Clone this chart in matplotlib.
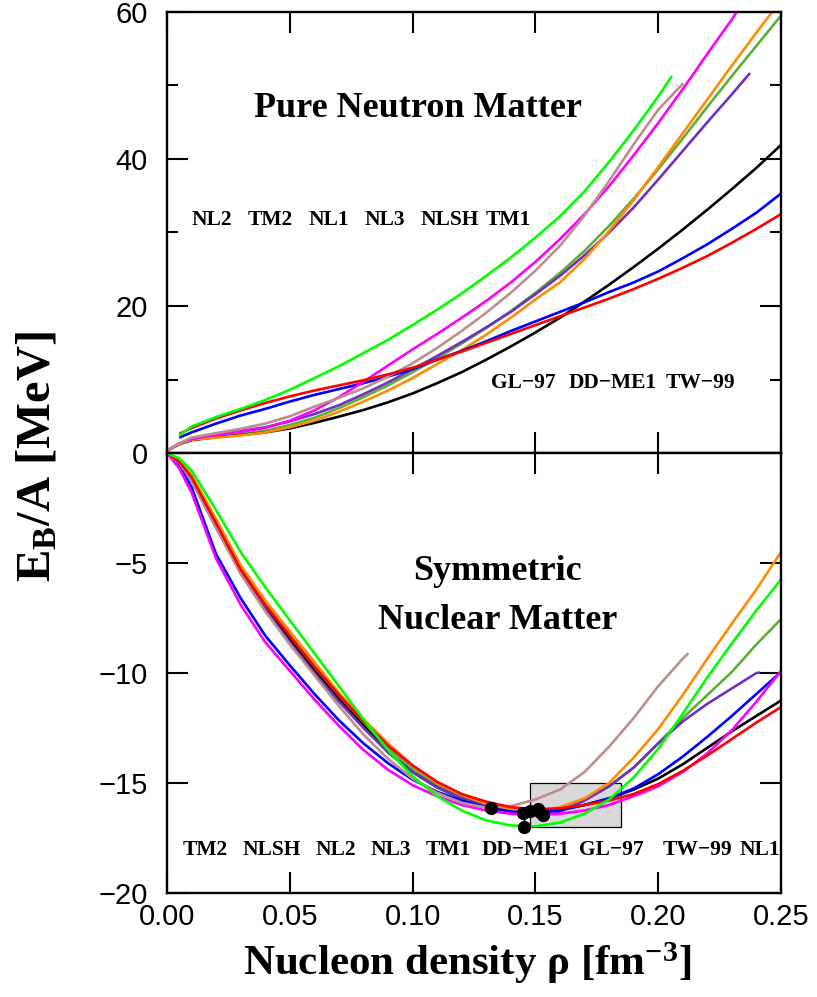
import numpy as np
import matplotlib
matplotlib.use("Agg")
import matplotlib.pyplot as plt
from matplotlib.patches import Rectangle

plt.rcParams['mathtext.fontset'] = 'custom'
plt.rcParams['mathtext.rm'] = 'Liberation Serif:bold'
plt.rcParams['mathtext.bf'] = 'Liberation Serif:bold'
plt.rcParams['mathtext.it'] = 'Liberation Serif:italic:bold'
plt.rcParams['axes.unicode_minus'] = True

nan = np.nan
# density grid (fm^-3)
rho = [0.0, 0.005, 0.01, 0.02, 0.03, 0.04, 0.05, 0.06, 0.07, 0.08, 0.09, 0.10, 0.11,
       0.12, 0.13, 0.14, 0.15, 0.16, 0.17, 0.18, 0.19, 0.20, 0.21, 0.22, 0.23, 0.24, 0.25]

# ---- Pure neutron matter E/A (MeV) ----
pnm_NL2 = [nan, 2.4, 3.6, 4.9, 6.0, 7.2, 8.6, 10.2, 11.8, 13.6, 15.4, 17.4, 19.5, 21.7, 24.1,
           26.6, 29.3, 32.2, 35.6, 39.6, 43.9, 48.5]
pnm_NL2_end = (0.2056, 51.3)
pnm_TW99 = [nan, 2.6, 3.4, 4.7, 5.8, 6.8, 7.7, 8.5, 9.2, 9.9, 10.7, 11.6, 12.7, 13.8, 15.0,
            16.2, 17.4, 18.6, 19.8, 21.0, 22.3, 23.7, 25.2, 26.8, 28.6, 30.5, 32.5]
pnm_DDME1 = [nan, 2.1, 2.8, 4.0, 5.1, 6.0, 7.0, 7.9, 8.7, 9.5, 10.4, 11.4, 12.7, 13.9, 15.2,
             16.6, 17.9, 19.2, 20.5, 21.9, 23.2, 24.7, 26.5, 28.4, 30.5, 32.7, 35.3]
pnm_GL97 = [0.3, 1.2, 1.75, 2.15, 2.45, 2.8, 3.35, 4.1, 4.95, 5.85, 6.9, 8.1, 9.5, 11.0, 12.7,
            14.5, 16.4, 18.4, 20.6, 22.9, 25.3, 27.8, 30.4, 33.1, 35.9, 38.8, 41.9]
pnm_NL1 = [0.3, 1.3, 1.9, 2.5, 2.9, 3.4, 4.4, 5.8, 7.6, 9.7, 11.9, 14.1, 16.2, 18.4, 20.7,
           23.2, 26.0, 29.1, 32.5, 36.3, 40.5, 44.9, 49.5, 54.3, 59.0, 64.0]
pnm_TM2 = [0.3, 1.3, 2.1, 2.7, 3.3, 4.0, 5.0, 6.3, 7.5, 8.8, 10.4, 12.2, 14.3, 16.6, 19.1,
           21.8, 24.8, 28.2, 32.3, 37.0, 42.0, 46.7]
pnm_TM2_end = (0.2102, 50.3)
pnm_TM1 = [0.3, 1.3, 1.9, 2.5, 3.0, 3.5, 4.3, 5.3, 6.5, 8.0, 9.6, 11.4, 13.2, 15.1, 17.1,
           19.2, 21.6, 24.1, 26.9, 30.0, 33.4, 37.2, 41.1, 45.0, 48.8]
pnm_TM1_end = (0.2374, 51.7)
pnm_NL3 = [0.3, 1.2, 1.8, 2.2, 2.6, 3.0, 3.8, 4.8, 6.1, 7.6, 9.2, 11.0, 12.9, 14.9, 17.0,
           19.3, 21.8, 24.5, 27.5, 30.9, 34.6, 38.6, 42.8, 47.1, 51.3, 55.4, 59.5]
pnm_NLSH = [0.3, 1.2, 1.8, 2.1, 2.4, 2.8, 3.5, 4.4, 5.6, 7.0, 8.5, 10.2, 12.1, 14.0, 16.1,
            18.4, 20.9, 23.2, 26.4, 30.2, 34.4, 38.9, 43.5, 48.1, 52.7, 57.2, 61.6]

# ---- Symmetric nuclear matter E/A (MeV) ----
snm_NL2 = [0, -0.25, -0.8, -2.6, -4.5, -6.1, -7.6, -9.1, -10.6, -12.1, -13.5, -14.7, -15.6,
           -16.25, -16.7, -16.93, -16.97, -16.8, -16.4, -15.75, -14.75, -13.45, -11.85,
           -10.2, -8.65, -7.15, -5.75]
snm_NL1 = [0, -0.7, -1.8, -4.8, -6.9, -8.6, -9.9, -11.2, -12.4, -13.5, -14.4, -15.1, -15.6,
           -16.0, -16.25, -16.4, -16.45, -16.4, -16.25, -16.0, -15.6, -15.15, -14.5, -13.65,
           -12.6, -11.3, -9.9]
snm_DDME1 = [0, -0.55, -1.55, -4.6, -6.6, -8.3, -9.65, -10.95, -12.15, -13.2, -14.1, -14.85,
             -15.4, -15.8, -16.1, -16.3, -16.35, -16.25, -16.0, -15.7, -15.25, -14.6, -13.8,
             -12.9, -11.95, -10.95, -9.95]
snm_GL97 = [0, -0.45, -1.2, -3.3, -5.3, -7.0, -8.5, -9.9, -11.2, -12.4, -13.6, -14.5, -15.2,
            -15.7, -16.05, -16.25, -16.3, -16.2, -16.0, -15.7, -15.3, -14.8, -14.15, -13.4,
            -12.65, -11.95, -11.25]
snm_TW99 = [0, -0.4, -1.1, -3.2, -5.3, -6.9, -8.3, -9.7, -11.0, -12.2, -13.3, -14.2, -14.95,
            -15.5, -15.85, -16.1, -16.2, -16.15, -16.0, -15.8, -15.5, -15.05, -14.45, -13.75,
            -13.0, -12.25, -11.55]
snm_NLSH = [0, -0.35, -1.0, -3.0, -5.1, -6.7, -8.1, -9.5, -10.9, -12.1, -13.2, -14.2, -15.0,
            -15.55, -15.95, -16.2, -16.3, -16.1, -15.7, -15.0, -13.85, -12.55, -11.0, -9.35,
            -7.75, -6.2, -4.5]
snm_NL3 = [0, -0.4, -1.15, -3.2, -5.2, -6.9, -8.4, -9.8, -11.1, -12.3, -13.4, -14.35, -15.1,
           -15.6, -15.95, -16.2, -16.3, -16.15, -15.75, -15.15, -14.3, -13.2, -12.05, -11.0,
           -9.95, -8.7, -7.55]
snm_TM1 = [0, -0.45, -1.25, -3.4, -5.4, -7.1, -8.6, -10.0, -11.3, -12.5, -13.6, -14.5, -15.2,
           -15.7, -16.05, -16.3, -16.4, -16.3, -15.8, -15.15, -14.3, -13.2, -12.2, -11.4,
           -10.7, -10.0]
snm_TM1_end = (0.2415, -9.98)
snm_TM2 = [0, -0.45, -1.25, -3.4, -5.5, -7.2, -8.7, -10.1, -11.5, -12.8, -13.9, -14.8, -15.45,
           -15.9, -16.12, -16.05, -15.75, -15.3, -14.5, -13.35, -12.05, -10.6, -9.35]
snm_TM2_end = (0.2123, -9.1)

# saturation points and empirical box
sat_rho = [0.132, 0.145, 0.148, 0.151, 0.153, 0.152, 0.1455]
sat_E = [-16.15, -16.35, -16.25, -16.2, -16.45, -16.3, -17.0]
box_rho = (0.148, 0.185)
box_E = (-17.0, -15.0)

# model labels
pnm_labels_a = ['NL2', 'TM2', 'NL1', 'NL3', 'NLSH', 'TM1']
pnm_labels_b = ['GL\u221297', 'DD\u2212ME1', 'TW\u221299']
snm_labels = ['TM2', 'NLSH', 'NL2', 'NL3', 'TM1', 'DD\u2212ME1', 'GL\u221297', 'TW\u221299', 'NL1']

# ---- styling / positions ----
pnm_a_x = [0.0183, 0.0419, 0.066, 0.0888, 0.1152, 0.1388]
pnm_b_x = [0.145, 0.1816, 0.217]
snm_x = [0.0155, 0.0428, 0.0687, 0.0912, 0.1144, 0.1462, 0.1808, 0.2158, 0.2415]

C = dict(NL2='#00ff00', NL1='#ff00ff', DDME1='#0000ff', GL97='#000000', TW99='#ff0000',
         NLSH='#ff8c00', NL3='#5cb038', TM1='#7030c0', TM2='#bc8f8f')

serif = 'Liberation Serif'
sans = 'Liberation Sans'

fig = plt.figure(figsize=(8.17, 9.97), dpi=100)
L, W = 167 / 817, 614 / 817
ax_t = fig.add_axes([L, 1 - 453 / 997, W, 441 / 997])
ax_b = fig.add_axes([L, 1 - 893 / 997, W, 440 / 997])

lw = 1.9


def draw(ax, vals, color, end=None):
    x = list(rho[:len(vals)])
    y = list(vals)
    if end is not None:
        x.append(end[0])
        y.append(end[1])
    ax.plot(x, y, color=color, lw=lw, solid_capstyle='butt', solid_joinstyle='round')


# top panel
draw(ax_t, pnm_NL3, C['NL3'])
draw(ax_t, pnm_GL97, C['GL97'])
draw(ax_t, pnm_TM1, C['TM1'], pnm_TM1_end)
draw(ax_t, pnm_NLSH, C['NLSH'])
draw(ax_t, pnm_DDME1, C['DDME1'])
draw(ax_t, pnm_NL1, C['NL1'])
draw(ax_t, pnm_TM2, C['TM2'], pnm_TM2_end)
draw(ax_t, pnm_TW99, C['TW99'])
draw(ax_t, pnm_NL2, C['NL2'], pnm_NL2_end)

# bottom panel
ax_b.add_patch(Rectangle((box_rho[0], box_E[0]), box_rho[1] - box_rho[0], box_E[1] - box_E[0],
                         facecolor='#d9d9d9', edgecolor='black', lw=0.9, zorder=1))
draw(ax_b, snm_NL3, C['NL3'])
draw(ax_b, snm_GL97, C['GL97'])
draw(ax_b, snm_TM1, C['TM1'], snm_TM1_end)
draw(ax_b, snm_NLSH, C['NLSH'])
draw(ax_b, snm_DDME1, C['DDME1'])
draw(ax_b, snm_NL1, C['NL1'])
draw(ax_b, snm_TM2, C['TM2'], snm_TM2_end)
draw(ax_b, snm_TW99, C['TW99'])
draw(ax_b, snm_NL2, C['NL2'])
ax_b.plot([sat_rho[-1], sat_rho[-1]], [sat_E[1], sat_E[-1]], color='black', lw=1.0, zorder=4)
ax_b.plot(sat_rho, sat_E, 'o', color='black', ms=8.5, zorder=5)

# axes formatting
for ax in (ax_t, ax_b):
    ax.set_xlim(0, 0.25)
    ax.set_xticks([0.0, 0.05, 0.10, 0.15, 0.20, 0.25])
    for s in ax.spines.values():
        s.set_linewidth(1.7)
    ax.tick_params(which='both', direction='in', top=True, bottom=True, left=True, right=True,
                   width=1.5, labelsize=21, pad=14)
    ax.tick_params(which='major', length=15)
    ax.tick_params(which='minor', length=8)

ax_t.set_ylim(0, 60)
ax_t.set_yticks([0, 20, 40, 60])
ax_t.set_yticks([10, 30, 50], minor=True)
ax_t.set_yticklabels(['0', '20', '40', '60'])
ax_t.tick_params(axis='x', labelbottom=False)

ax_b.set_ylim(-20, 0)
ax_b.set_yticks([-20, -15, -10, -5, 0])
ax_b.set_yticklabels(['\u221220', '\u221215', '\u221210', '\u22125', ''])
ax_b.set_xticklabels(['0.00', '0.05', '0.10', '0.15', '0.20', '0.25'])
ax_b.tick_params(axis='x', pad=7)

for ax in (ax_t, ax_b):
    for t in ax.get_xticklabels() + ax.get_yticklabels():
        t.set_fontfamily(sans)

# texts
bold = dict(fontfamily=serif, fontweight='bold')
ax_t.text(0.102, 45.7, 'Pure Neutron Matter', ha='center', va='baseline', fontsize=26, **bold)
ax_b.text(0.1346, -5.77, 'Symmetric', ha='center', va='baseline', fontsize=26, **bold)
ax_b.text(0.1346, -8.0, 'Nuclear Matter', ha='center', va='baseline', fontsize=26, **bold)

for lab, x in zip(pnm_labels_a, pnm_a_x):
    ax_t.text(x, 31.0, lab, ha='center', va='baseline', fontsize=15.5, **bold)
for lab, x in zip(pnm_labels_b, pnm_b_x):
    ax_t.text(x, 8.8, lab, ha='center', va='baseline', fontsize=15.5, **bold)
for lab, x in zip(snm_labels, snm_x):
    ax_b.text(x, -18.25, lab, ha='center', va='baseline', fontsize=15.5, **bold)

fig.text(38 / 817, 1 - 457 / 997, r'E$_{\mathbf{B}}$/A [MeV]', rotation=90, ha='center',
         va='center', fontsize=35, **bold)
fig.text(467 / 817, 1 - 963 / 997, r'Nucleon density $\mathrm{\rho}$ [fm$^{\mathbf{-3}}$]',
         ha='center', va='center', fontsize=31, **bold)

fig.savefig('out.png', dpi=100)
